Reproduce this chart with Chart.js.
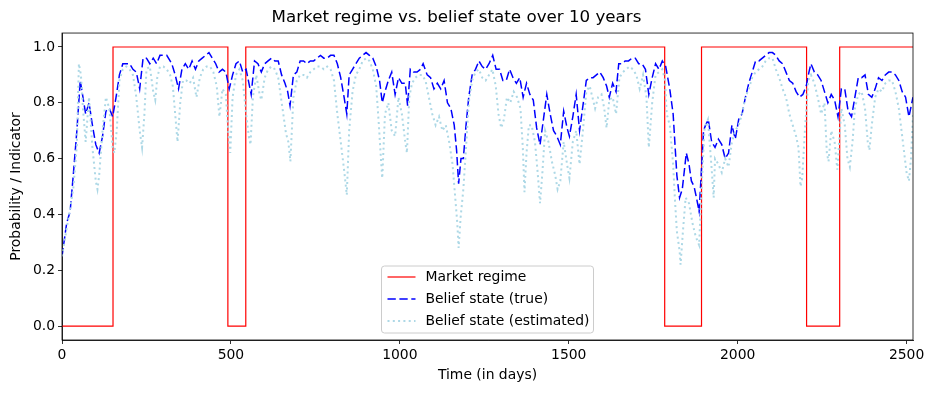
<!DOCTYPE html>
<html>
<head>
<meta charset="utf-8">
<script src="https://cdn.jsdelivr.net/npm/chart.js@4/dist/chart.umd.min.js"></script>
<style>
  body { margin: 0; background: #fff; }
  #wrap { width: 934px; height: 393px; position: relative; }
</style>
</head>
<body>
<div id="wrap"><canvas id="chart"></canvas></div>
<script>
"use strict";

// Regime (0 = bear, 1 = bull), switch days
const regimeDays = [0, 151, 491, 544, 1784, 1893, 2204, 2302, 2519];
const regimeValues = [0, 1, 0, 1, 0, 1, 0, 1, 1];

// Belief state (true)
const trueDays = [0, 14, 24, 34, 44, 54, 62, 70, 80, 90, 100, 110, 120, 130, 140, 150, 160, 170, 180, 190, 200, 210, 220, 230, 240, 250, 260, 270, 280, 290, 300,
  310, 320, 325, 335, 345, 355, 365, 375, 385, 395, 405, 415, 425, 435, 445, 455, 465, 475, 485, 495, 505, 515, 525, 535, 545, 560, 570, 580, 590, 600, 610, 620,
  630, 640, 650, 660, 668, 675, 685, 695, 705, 715, 725, 735, 745, 755, 765, 775, 785, 795, 805, 815, 825, 835, 843, 850, 860, 870, 880, 890, 900, 910, 920,
  930, 940, 948, 956, 966, 976, 986, 996, 1006, 1016, 1023, 1031, 1041, 1051, 1061, 1069, 1081, 1091, 1101, 1111, 1121, 1131, 1141, 1151, 1161, 1168, 1174, 1181, 1188, 1196, 1204, 1214, 1224, 1234,
  1244, 1254, 1264, 1275, 1285, 1295, 1305, 1315, 1325, 1335, 1345, 1355, 1365, 1375, 1385, 1395, 1405, 1415, 1425, 1435, 1445, 1455, 1465, 1475, 1485, 1495, 1502, 1512, 1522, 1532, 1542,
  1552, 1562, 1572, 1582, 1592, 1602, 1612, 1620, 1630, 1640, 1648, 1657, 1667, 1677, 1687, 1697, 1707, 1717, 1727, 1737, 1747, 1757, 1767, 1777, 1787, 1799, 1809, 1814, 1820, 1828, 1836, 1848, 1856, 1863,
  1871, 1878, 1886, 1891, 1899, 1905, 1913, 1923, 1933, 1943, 1953, 1963, 1973, 1983, 1993, 2003, 2013, 2023, 2033, 2043, 2053, 2063, 2073, 2083, 2093, 2103, 2113, 2123, 2133, 2143, 2153, 2163,
  2173, 2183, 2193, 2203, 2211, 2217, 2227, 2237, 2247, 2257, 2267, 2277, 2287, 2297, 2307, 2317, 2327, 2337, 2347, 2357, 2367, 2377, 2387, 2397, 2407, 2417, 2427, 2437, 2447, 2457, 2467, 2477, 2487, 2497, 2507, 2519];
const trueBelief = [0.25, 0.37, 0.41, 0.55, 0.70, 0.88, 0.82, 0.76, 0.80, 0.72, 0.65, 0.62, 0.68, 0.77, 0.78, 0.75, 0.82, 0.90, 0.94, 0.94, 0.94, 0.92, 0.91, 0.85, 0.96, 0.96, 0.94, 0.96, 0.94, 0.97, 0.97,
  0.97, 0.95, 0.94, 0.90, 0.85, 0.92, 0.94, 0.92, 0.95, 0.92, 0.95, 0.96, 0.97, 0.98, 0.96, 0.94, 0.91, 0.92, 0.91, 0.85, 0.90, 0.94, 0.95, 0.91, 0.92, 0.83, 0.95, 0.94, 0.91, 0.94, 0.95, 0.96,
  0.95, 0.95, 0.90, 0.87, 0.84, 0.79, 0.90, 0.91, 0.95, 0.95, 0.94, 0.95, 0.95, 0.96, 0.97, 0.96, 0.96, 0.97, 0.97, 0.94, 0.89, 0.82, 0.76, 0.90, 0.92, 0.94, 0.96, 0.97, 0.98, 0.97, 0.96,
  0.93, 0.88, 0.80, 0.84, 0.88, 0.91, 0.83, 0.89, 0.87, 0.87, 0.79, 0.92, 0.91, 0.91, 0.92, 0.94, 0.90, 0.89, 0.85, 0.87, 0.85, 0.88, 0.80, 0.78, 0.72, 0.63, 0.51, 0.60, 0.60, 0.72, 0.82, 0.90, 0.92, 0.95,
  0.93, 0.92, 0.94, 0.97, 0.92, 0.92, 0.88, 0.88, 0.92, 0.89, 0.87, 0.89, 0.82, 0.87, 0.83, 0.81, 0.71, 0.65, 0.74, 0.83, 0.76, 0.70, 0.68, 0.65, 0.77, 0.71, 0.68, 0.75, 0.83, 0.70, 0.79,
  0.88, 0.89, 0.89, 0.90, 0.91, 0.89, 0.86, 0.82, 0.87, 0.84, 0.94, 0.94, 0.95, 0.95, 0.96, 0.96, 0.94, 0.94, 0.92, 0.83, 0.89, 0.94, 0.92, 0.95, 0.93, 0.85, 0.76, 0.66, 0.54, 0.46, 0.49, 0.62, 0.58, 0.52,
  0.50, 0.46, 0.41, 0.52, 0.70, 0.72, 0.74, 0.66, 0.64, 0.67, 0.65, 0.60, 0.62, 0.72, 0.67, 0.74, 0.76, 0.82, 0.87, 0.91, 0.95, 0.95, 0.96, 0.97, 0.98, 0.98, 0.97, 0.95, 0.94, 0.91, 0.88, 0.87,
  0.84, 0.82, 0.83, 0.86, 0.91, 0.94, 0.91, 0.90, 0.88, 0.84, 0.80, 0.83, 0.81, 0.75, 0.85, 0.85, 0.77, 0.75, 0.82, 0.89, 0.89, 0.90, 0.83, 0.82, 0.85, 0.89, 0.88, 0.90, 0.91, 0.91, 0.90, 0.88, 0.84, 0.82, 0.75, 0.82];

// Belief state (estimated)
const estDays = [0, 14, 24, 34, 44, 50, 56, 62, 70, 80, 90, 100, 105, 110, 120, 130, 140, 150, 155, 162, 170, 180, 190, 200, 210, 220, 230, 237, 244, 250, 260, 270, 276, 282, 290, 300, 310,
  320, 328, 335, 342, 350, 358, 368, 378, 388, 398, 408, 418, 428, 438, 448, 458, 466, 475, 485, 492, 498, 505, 515, 525, 535, 545, 553, 558, 565, 575, 585, 590, 600, 610, 620,
  630, 640, 648, 655, 663, 670, 676, 685, 695, 705, 715, 725, 735, 745, 755, 765, 775, 785, 795, 805, 815, 825, 835, 843, 850, 860, 870, 880, 890, 900, 910, 920,
  930, 938, 944, 948, 956, 966, 976, 986, 996, 1006, 1016, 1021, 1028, 1036, 1046, 1056, 1066, 1076, 1086, 1096, 1106, 1116, 1126, 1136, 1146, 1156, 1164, 1170, 1174, 1180, 1188, 1196, 1204, 1214, 1224, 1234,
  1244, 1254, 1264, 1274, 1284, 1292, 1300, 1308, 1317, 1327, 1337, 1347, 1357, 1364, 1369, 1375, 1382, 1390, 1400, 1408, 1415, 1422, 1430, 1440, 1450, 1460, 1467, 1475, 1485, 1495, 1502, 1512, 1522, 1532, 1542,
  1552, 1562, 1570, 1578, 1587, 1597, 1605, 1612, 1620, 1630, 1640, 1650, 1660, 1670, 1680, 1690, 1700, 1710, 1720, 1730, 1737, 1747, 1757, 1767, 1777, 1785, 1790, 1799, 1809, 1814, 1820, 1828, 1831, 1838, 1846,
  1856, 1866, 1876, 1886, 1891, 1902, 1912, 1922, 1929, 1933, 1943, 1953, 1963, 1973, 1983, 1993, 2003, 2013, 2023, 2033, 2043, 2053, 2063, 2073, 2083, 2093, 2103, 2113, 2123, 2133, 2143, 2153, 2163, 2173,
  2180, 2186, 2191, 2199, 2209, 2217, 2227, 2237, 2247, 2257, 2264, 2269, 2277, 2287, 2295, 2307, 2317, 2325, 2332, 2340, 2347, 2357, 2367, 2377, 2385, 2390, 2397, 2407, 2417, 2427, 2437, 2447, 2457, 2467, 2477, 2485, 2493, 2500, 2507, 2513, 2519];
const estBelief = [0.25, 0.35, 0.42, 0.50, 0.65, 0.94, 0.90, 0.78, 0.66, 0.82, 0.64, 0.52, 0.49, 0.54, 0.70, 0.82, 0.78, 0.64, 0.62, 0.70, 0.88, 0.92, 0.93, 0.92, 0.90, 0.82, 0.70, 0.64, 0.76, 0.92, 0.93, 0.84, 0.81, 0.89, 0.93, 0.93, 0.92,
  0.90, 0.86, 0.76, 0.66, 0.80, 0.88, 0.88, 0.87, 0.89, 0.82, 0.89, 0.92, 0.93, 0.93, 0.91, 0.86, 0.75, 0.85, 0.83, 0.70, 0.62, 0.82, 0.90, 0.92, 0.88, 0.76, 0.68, 0.65, 0.82, 0.90, 0.83, 0.81, 0.89, 0.92, 0.93,
  0.92, 0.89, 0.82, 0.76, 0.69, 0.66, 0.59, 0.82, 0.88, 0.90, 0.90, 0.89, 0.91, 0.92, 0.93, 0.93, 0.92, 0.93, 0.92, 0.88, 0.76, 0.66, 0.56, 0.47, 0.70, 0.84, 0.90, 0.92, 0.95, 0.96, 0.95, 0.92,
  0.86, 0.72, 0.60, 0.53, 0.76, 0.80, 0.70, 0.68, 0.82, 0.76, 0.66, 0.62, 0.82, 0.87, 0.89, 0.90, 0.90, 0.88, 0.82, 0.76, 0.72, 0.75, 0.70, 0.72, 0.66, 0.58, 0.46, 0.37, 0.28, 0.39, 0.49, 0.64, 0.80, 0.88, 0.91, 0.92,
  0.89, 0.88, 0.90, 0.92, 0.86, 0.76, 0.71, 0.74, 0.82, 0.80, 0.84, 0.82, 0.78, 0.64, 0.48, 0.62, 0.72, 0.72, 0.66, 0.55, 0.44, 0.55, 0.70, 0.66, 0.59, 0.54, 0.49, 0.52, 0.66, 0.58, 0.53, 0.66, 0.70, 0.58, 0.70,
  0.84, 0.86, 0.82, 0.78, 0.82, 0.83, 0.78, 0.71, 0.81, 0.82, 0.76, 0.89, 0.91, 0.92, 0.93, 0.92, 0.90, 0.85, 0.90, 0.82, 0.64, 0.80, 0.90, 0.91, 0.92, 0.88, 0.76, 0.72, 0.58, 0.46, 0.34, 0.27, 0.22, 0.34, 0.46,
  0.44, 0.37, 0.32, 0.29, 0.44, 0.71, 0.74, 0.58, 0.46, 0.60, 0.58, 0.55, 0.60, 0.57, 0.66, 0.70, 0.72, 0.76, 0.82, 0.85, 0.89, 0.91, 0.92, 0.93, 0.95, 0.96, 0.96, 0.92, 0.89, 0.85, 0.82, 0.76, 0.72, 0.68,
  0.64, 0.50, 0.53, 0.70, 0.88, 0.90, 0.87, 0.82, 0.76, 0.80, 0.62, 0.59, 0.70, 0.66, 0.56, 0.78, 0.72, 0.60, 0.57, 0.66, 0.78, 0.83, 0.84, 0.78, 0.66, 0.63, 0.72, 0.82, 0.85, 0.84, 0.87, 0.88, 0.88, 0.84, 0.78, 0.70, 0.62, 0.55, 0.52, 0.60, 0.76];

// Tick labels
const xTicks = [0, 500, 1000, 1500, 2000, 2500];
const yTicks = [0.0, 0.2, 0.4, 0.6, 0.8, 1.0];

const FONT = "'DejaVu Sans', sans-serif";
Chart.defaults.font.family = FONT;
Chart.defaults.color = "#000";

const toPoints = (xs, ys) => xs.map((x, i) => ({ x: x, y: ys[i] }));

// Ram runt ritytan + legend inne i diagrammet
const framePlugin = {
    id: "frame",
    afterDatasetsDraw(chart) {
        const { ctx, chartArea: a } = chart;
        ctx.save();
        ctx.strokeStyle = "#000";
        ctx.lineWidth = 0.8;
        ctx.strokeRect(a.left, a.top, a.right - a.left, a.bottom - a.top);

        // legend, nere i mitten
        const w = 212, h = 67;
        const bx = (a.left + a.right) / 2 - w / 2;
        const by = a.bottom - 7 - h;
        ctx.beginPath();
        ctx.roundRect(bx, by, w, h, 3);
        ctx.fillStyle = "rgba(255,255,255,0.8)";
        ctx.fill();
        ctx.strokeStyle = "#cccccc";
        ctx.lineWidth = 1;
        ctx.stroke();

        ctx.font = "13.9px " + FONT;
        ctx.textBaseline = "middle";
        chart.data.datasets.forEach((ds, i) => {
            const y = by + 11 + i * 22;
            ctx.beginPath();
            ctx.setLineDash(ds.borderDash || []);
            ctx.lineCap = "butt";
            ctx.strokeStyle = ds.borderColor;
            ctx.lineWidth = ds.borderWidth;
            ctx.moveTo(bx + 6, y);
            ctx.lineTo(bx + 34, y);
            ctx.stroke();
            ctx.setLineDash([]);
            ctx.fillStyle = "#000";
            ctx.fillText(ds.label, bx + 44, y);
        });
        ctx.restore();
    }
};

new Chart(document.getElementById("chart"), {
    type: "line",
    data: {
        datasets: [
            {
                label: "Market regime",
                data: toPoints(regimeDays, regimeValues),
                borderColor: "#ff0000",
                borderWidth: 1.2,
                stepped: true,
                pointRadius: 0,
                order: 3
            },
            {
                label: "Belief state (true)",
                data: toPoints(trueDays, trueBelief),
                borderColor: "#0000ff",
                borderWidth: 1.5,
                borderDash: [8.3, 3.6],
                pointRadius: 0,
                order: 2
            },
            {
                label: "Belief state (estimated)",
                data: toPoints(estDays, estBelief),
                borderColor: "#add8e6",
                borderWidth: 2,
                borderDash: [2, 3.3],
                pointRadius: 0,
                order: 1
            }
        ]
    },
    options: {
        responsive: true,
        maintainAspectRatio: false,
        animation: false,
        layout: { padding: { left: 0, right: 21, top: 0, bottom: 0 } },
        plugins: {
            legend: { display: false },
            tooltip: { enabled: false },
            title: {
                display: true,
                text: "Market regime vs. belief state over 10 years",
                font: { size: 16.7, weight: "normal" },
                color: "#000",
                padding: { top: 8, bottom: 5 }
            }
        },
        scales: {
            x: {
                type: "linear",
                min: 0,
                max: 2519,
                afterBuildTicks: s => { s.ticks = xTicks.map(v => ({ value: v })); },
                afterFit: s => { s.height = 53; },
                ticks: {
                    font: { size: 13.9 },
                    padding: 3,
                    maxRotation: 0,
                    callback: v => String(v)
                },
                grid: { drawOnChartArea: false, drawTicks: true, tickLength: 4, tickColor: "#000", tickWidth: 0.8 },
                border: { display: true, color: "#000", width: 0.8 },
                title: {
                    display: true,
                    text: "Time (in days)",
                    font: { size: 13.9 },
                    padding: { top: 0, bottom: 9 }
                }
            },
            y: {
                min: -0.05,
                max: 1.05,
                afterBuildTicks: s => { s.ticks = yTicks.map(v => ({ value: v })); },
                afterFit: s => { s.width = 62; },
                ticks: {
                    font: { size: 13.9 },
                    padding: 3,
                    callback: v => Number(v).toFixed(1)
                },
                grid: { drawOnChartArea: false, drawTicks: true, tickLength: 4, tickColor: "#000", tickWidth: 0.8 },
                border: { display: true, color: "#000", width: 0.8 },
                title: {
                    display: true,
                    text: "Probability / Indicator",
                    font: { size: 13.9 },
                    padding: { top: 8, bottom: 0 }
                }
            }
        }
    },
    plugins: [framePlugin]
});
</script>
</body>
</html>
